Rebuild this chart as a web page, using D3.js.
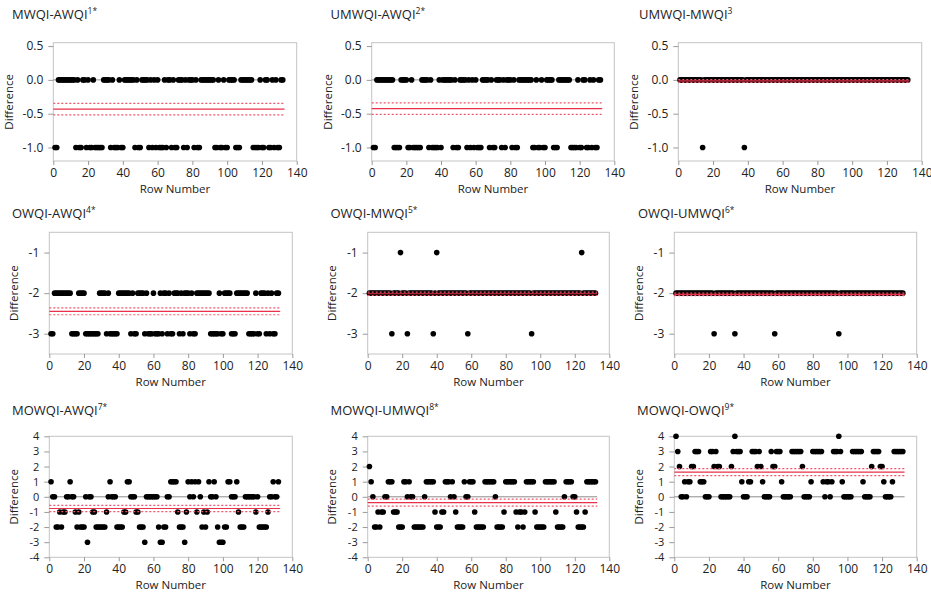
<!DOCTYPE html>
<html>
<head>
<meta charset="utf-8">
<script src="https://cdn.jsdelivr.net/npm/d3@7"></script>
<style>
  body { margin: 0; background: #fff; }
  svg text { font-family: "Open Sans", "DejaVu Sans", sans-serif; fill: #222; }
</style>
</head>
<body>
<svg id="chart" width="931" height="593"></svg>
<script>
// ------------------------------------------------------------
//
// Data: differences read per row (rows 1..132)
//
// ------------------------------------------------------------

var diffMWQI_AWQI = [
  -1,-1,0,0,0,0,0,0,0,0,   0,0,-1,0,-1,-1,0,0,-1,0,
  -1,-1,0,-1,-1,-1,-1,-1,0,0,   0,0,-1,0,-1,-1,-1,0,-1,-1,
  0,0,0,0,0,0,-1,0,-1,-1,   0,0,0,0,-1,0,-1,0,-1,0,
  -1,-1,-1,0,-1,0,0,-1,0,-1,   -1,0,0,0,-1,0,-1,0,0,0,
  -1,0,-1,-1,0,0,0,0,0,0,   0,0,-1,-1,0,-1,-1,0,-1,-1,
  0,0,0,0,-1,-1,-1,0,0,0,   0,0,0,0,-1,-1,-1,-1,0,-1,
  -1,0,0,-1,-1,0,-1,0,-1,-1,0,0
];

var diffUMWQI_AWQI = [
  -1,-1,0,0,0,0,0,0,0,0,   0,0,-1,-1,-1,-1,0,0,0,0,
  -1,-1,0,-1,-1,-1,-1,-1,0,0,   0,0,-1,0,-1,-1,-1,-1,0,-1,
  0,0,0,0,0,0,-1,0,-1,-1,   0,0,0,0,-1,0,-1,0,-1,0,
  -1,-1,-1,0,0,0,0,-1,0,-1,   -1,0,0,0,-1,0,-1,0,0,0,
  -1,0,-1,-1,0,0,0,0,0,0,   0,0,-1,-1,0,-1,-1,0,-1,-1,
  0,0,0,0,-1,-1,-1,0,0,0,   0,0,0,0,-1,-1,-1,-1,0,-1,
  -1,0,0,-1,-1,0,-1,0,-1,-1,0,0
];

var diffUMWQI_MWQI = [
  0,0,0,0,0,0,0,0,0,0,   0,0,0,-1,0,0,0,0,0,0,
  0,0,0,0,0,0,0,0,0,0,   0,0,0,0,0,0,0,-1,0,0,
  0,0,0,0,0,0,0,0,0,0,   0,0,0,0,0,0,0,0,0,0,
  0,0,0,0,0,0,0,0,0,0,   0,0,0,0,0,0,0,0,0,0,
  0,0,0,0,0,0,0,0,0,0,   0,0,0,0,0,0,0,0,0,0,
  0,0,0,0,0,0,0,0,0,0,   0,0,0,0,0,0,0,0,0,0,
  0,0,0,0,0,0,0,0,0,0,0,0
];

var diffOWQI_AWQI = [
  -3,-3,-2,-2,-2,-2,-2,-2,-2,-2,   -2,-2,-3,-3,-3,-3,-2,-2,-2,-2,
  -3,-3,-3,-3,-3,-3,-3,-3,-2,-2,   -2,-2,-3,-2,-3,-3,-3,-3,-3,-2,
  -2,-2,-2,-2,-2,-2,-3,-2,-3,-3,   -2,-2,-2,-2,-3,-2,-3,-3,-3,-2,
  -3,-3,-3,-2,-3,-2,-2,-3,-2,-3,   -3,-2,-2,-2,-3,-2,-3,-2,-2,-2,
  -3,-2,-3,-3,-2,-2,-2,-2,-2,-2,   -2,-2,-3,-3,-3,-3,-3,-2,-3,-3,
  -2,-2,-2,-2,-3,-3,-3,-2,-2,-2,   -2,-2,-2,-2,-3,-3,-3,-3,-2,-3,
  -3,-2,-2,-2,-3,-2,-3,-2,-3,-3,-2,-2
];

var diffOWQI_MWQI = [
  -2,-2,-2,-2,-2,-2,-2,-2,-2,-2,   -2,-2,-2,-3,-2,-2,-2,-2,-1,-2,
  -2,-2,-3,-2,-2,-2,-2,-2,-2,-2,   -2,-2,-2,-2,-2,-2,-2,-3,-2,-1,
  -2,-2,-2,-2,-2,-2,-2,-2,-2,-2,   -2,-2,-2,-2,-2,-2,-2,-3,-2,-2,
  -2,-2,-2,-2,-2,-2,-2,-2,-2,-2,   -2,-2,-2,-2,-2,-2,-2,-2,-2,-2,
  -2,-2,-2,-2,-2,-2,-2,-2,-2,-2,   -2,-2,-2,-2,-3,-2,-2,-2,-2,-2,
  -2,-2,-2,-2,-2,-2,-2,-2,-2,-2,   -2,-2,-2,-2,-2,-2,-2,-2,-2,-2,
  -2,-2,-2,-1,-2,-2,-2,-2,-2,-2,-2,-2
];

var diffOWQI_UMWQI = [
  -2,-2,-2,-2,-2,-2,-2,-2,-2,-2,   -2,-2,-2,-2,-2,-2,-2,-2,-2,-2,
  -2,-2,-3,-2,-2,-2,-2,-2,-2,-2,   -2,-2,-2,-2,-3,-2,-2,-2,-2,-2,
  -2,-2,-2,-2,-2,-2,-2,-2,-2,-2,   -2,-2,-2,-2,-2,-2,-2,-3,-2,-2,
  -2,-2,-2,-2,-2,-2,-2,-2,-2,-2,   -2,-2,-2,-2,-2,-2,-2,-2,-2,-2,
  -2,-2,-2,-2,-2,-2,-2,-2,-2,-2,   -2,-2,-2,-2,-3,-2,-2,-2,-2,-2,
  -2,-2,-2,-2,-2,-2,-2,-2,-2,-2,   -2,-2,-2,-2,-2,-2,-2,-2,-2,-2,
  -2,-2,-2,-2,-2,-2,-2,-2,-2,-2,-2,-2
];

var diffMOWQI_AWQI = [
  1,0,0,-2,-2,-1,-2,-1,-1,0,   0,1,0,0,-1,-2,-1,-2,-2,-2,
  0,-3,0,0,-1,-1,-2,-2,-2,-2,   -2,-2,-1,0,1,0,0,0,-2,-2,
  -2,-2,-1,-1,1,1,0,0,0,-1,   -1,-2,-2,-2,-3,0,0,0,0,0,
  0,0,-2,-3,-3,-2,-2,0,0,1,   1,1,1,-1,-2,-2,-2,-3,-1,1,
  0,1,0,1,-1,1,0,-2,-1,-2,   -1,1,0,0,1,0,-2,-3,-3,-3,
  -2,-2,1,1,0,0,0,1,-1,-2,   -2,-2,0,0,0,0,0,0,-1,0,
  -2,-2,-2,-2,-2,-1,0,0,1,0,0,1
];

var diffMOWQI_UMWQI = [
  2,1,0,-2,-2,-1,-2,-1,-1,0,   0,1,1,1,-1,-1,-1,-2,-2,-2,
  1,1,0,1,0,0,-2,-2,-2,-2,   -2,-2,0,1,1,1,1,1,-1,-2,
  -2,-2,-1,-1,1,1,1,0,1,0,   -1,-2,-2,-2,-2,1,0,0,1,1,
  1,-1,-2,-2,-2,-2,-2,1,1,1,   1,1,1,0,-2,-2,-2,-2,-1,1,
  1,1,1,1,1,-1,-2,-1,-1,-2,   -1,1,1,1,1,1,-1,-2,-2,-2,
  -2,-2,1,1,1,1,1,1,-1,-2,   -2,-2,-2,0,1,1,1,1,0,0,
  -1,-2,-2,-2,-2,-1,1,1,1,1,1,1
];

var diffMOWQI_OWQI = [
  4,3,2,0,0,1,0,1,1,2,   2,3,3,3,1,1,1,0,0,0,
  3,3,2,3,2,2,0,0,0,0,   0,0,2,3,4,3,3,3,1,0,
  0,0,1,1,3,3,3,2,3,2,   1,0,0,0,0,3,2,2,3,3,
  3,1,0,0,0,0,0,3,3,3,   3,3,3,2,0,0,0,0,1,3,
  3,3,3,3,3,1,0,1,1,0,   1,3,3,3,4,3,1,0,0,0,
  0,0,3,3,3,3,3,3,1,0,   0,0,0,2,3,3,3,3,2,2,
  1,0,0,0,0,1,3,3,3,3,3,3
];

// Tick labels
var xTicks      = [0, 20, 40, 60, 80, 100, 120, 140];
var yTicksTop   = [-1.0, -0.5, 0.0, 0.5];
var yTicksMid   = [-3, -2, -1];
var yTicksLow   = [-4, -3, -2, -1, 0, 1, 2, 3, 4];

// Panel titles and their superscripts
var titles      = ["MWQI-AWQI", "UMWQI-AWQI", "UMWQI-MWQI",
                   "OWQI-AWQI", "OWQI-MWQI", "OWQI-UMWQI",
                   "MOWQI-AWQI", "MOWQI-UMWQI", "MOWQI-OWQI"];
var titleMarks  = ["1*", "2*", "3", "4*", "5*", "6*", "7*", "8*", "9*"];

// ------------------------------------------------------------
//
// Layout
//
// ------------------------------------------------------------

var svg = d3.select("#chart");

var columns = [
  // [left, right, titleX] per row
  [[53.3, 296.7, 12], [371.7, 614.3, 330.5], [678.3, 921.7, 639]],
  [[49.3, 292.3, 12], [367.7, 609.3, 330.5], [674.3, 916.7, 638]],
  [[49.3, 292.3, 12], [367.7, 609.3, 330.5], [674.3, 916.7, 637]]
];

var rowsLayout = [
  { top: 42.7,  bottom: 161,   titleY: 19,  domain: [-1.2, 0.55], ticks: yTicksTop, tickFont: 12, fmt: function (d) { return d.toFixed(1); }, labelOffset: 40 },
  { top: 232.3, bottom: 354,   titleY: 218, domain: [-3.5, -0.5], ticks: yTicksMid, tickFont: 12, fmt: function (d) { return String(d); },   labelOffset: 31.5 },
  { top: 436.3, bottom: 557.3, titleY: 415, domain: [-4, 4],      ticks: yTicksLow, tickFont: 11, fmt: function (d) { return String(d); },   labelOffset: 31.5 }
];

var series = [
  diffMWQI_AWQI, diffUMWQI_AWQI, diffUMWQI_MWQI,
  diffOWQI_AWQI, diffOWQI_MWQI, diffOWQI_UMWQI,
  diffMOWQI_AWQI, diffMOWQI_UMWQI, diffMOWQI_OWQI
];

var red = "#e8304a",
    redLight = "#f0566c";

// ------------------------------------------------------------
//
// Rendering
//
// ------------------------------------------------------------

function drawPanel(i) {
  var r = Math.floor(i / 3),
      c = i % 3,
      lay = rowsLayout[r],
      col = columns[r][c],
      values = series[i],
      n = values.length;

  var x = d3.scaleLinear().domain([0, 140]).range([col[0], col[1]]);
  var y = d3.scaleLinear().domain(lay.domain).range([lay.bottom, lay.top]);

  var g = svg.append("g").attr("class", "panel");

  // title with superscript
  var t = g.append("text")
    .attr("x", col[2])
    .attr("y", lay.titleY)
    .style("font-size", "13px");
  t.append("tspan").text(titles[i]);
  t.append("tspan")
    .attr("dy", -5)
    .style("font-size", "8.5px")
    .text(titleMarks[i]);

  // frame
  g.append("rect")
    .attr("x", col[0])
    .attr("y", lay.top)
    .attr("width", col[1] - col[0])
    .attr("height", lay.bottom - lay.top)
    .attr("fill", "none")
    .attr("stroke", "#c4c4c4");

  // axes
  var yAxis = d3.axisLeft(y)
    .tickValues(lay.ticks)
    .tickFormat(lay.fmt)
    .tickSize(5)
    .tickPadding(5);

  var xAxis = d3.axisBottom(x)
    .tickValues(xTicks)
    .tickSize(4)
    .tickPadding(3);

  var ya = g.append("g")
    .attr("transform", "translate(" + col[0] + ",0)")
    .call(yAxis);
  var xa = g.append("g")
    .attr("transform", "translate(0," + lay.bottom + ")")
    .call(xAxis);

  [ya, xa].forEach(function (a, k) {
    a.select(".domain").remove();
    a.selectAll(".tick line").attr("stroke", "#9a9a9a");
    a.selectAll(".tick text")
      .style("font-size", (k === 0 ? lay.tickFont : 12) + "px")
      .style("font-family", "\"Open Sans\", sans-serif")
      .attr("fill", "#222");
  });

  // axis labels
  g.append("text")
    .attr("x", (col[0] + col[1]) / 2)
    .attr("y", lay.bottom + 32)
    .attr("text-anchor", "middle")
    .style("font-size", "11.5px")
    .text("Row Number");

  g.append("text")
    .attr("transform", "translate(" + (col[0] - lay.labelOffset) + "," + ((lay.top + lay.bottom) / 2) + ") rotate(-90)")
    .attr("text-anchor", "middle")
    .style("font-size", "11.5px")
    .text("Difference");

  // mean and 95% confidence interval of the difference
  var mean = d3.mean(values),
      se = d3.deviation(values) / Math.sqrt(n),
      tq = 1.978,
      xEnd = n + 1;

  var inRange = function (d) { return d.v >= lay.domain[0] && d.v <= lay.domain[1]; };

  var zeroLine = [{ v: 0, stroke: "#8c8c8c", dash: null, w: 1 }];
  var meanLines = [
    { v: mean + tq * se, stroke: redLight, dash: "2,2", w: 1.2 },
    { v: mean - tq * se, stroke: redLight, dash: "2,2", w: 1.2 },
    { v: mean,           stroke: red,      dash: null,  w: 1.2 }
  ];

  function drawLines(cls, data) {
    g.selectAll("line." + cls)
      .data(data.filter(inRange))
      .enter()
        .append("line")
        .attr("class", cls)
        .attr("x1", x(0))
        .attr("x2", x(xEnd))
        .attr("y1", function (d) { return y(d.v); })
        .attr("y2", function (d) { return y(d.v); })
        .attr("stroke", function (d) { return d.stroke; })
        .attr("stroke-width", function (d) { return d.w; })
        .attr("stroke-dasharray", function (d) { return d.dash; });
  }

  // zero reference goes under the points
  drawLines("zero", zeroLine);

  // points
  g.selectAll("circle")
    .data(values)
    .enter()
      .append("circle")
      .attr("cx", function (d, k) { return x(k + 1); })
      .attr("cy", function (d) { return y(d); })
      .attr("r", 2.8)
      .attr("fill", "#000");

  // mean and CI lines are drawn over the points
  drawLines("mean", meanLines);
}

d3.range(9).forEach(drawPanel);
</script>
</body>
</html>
